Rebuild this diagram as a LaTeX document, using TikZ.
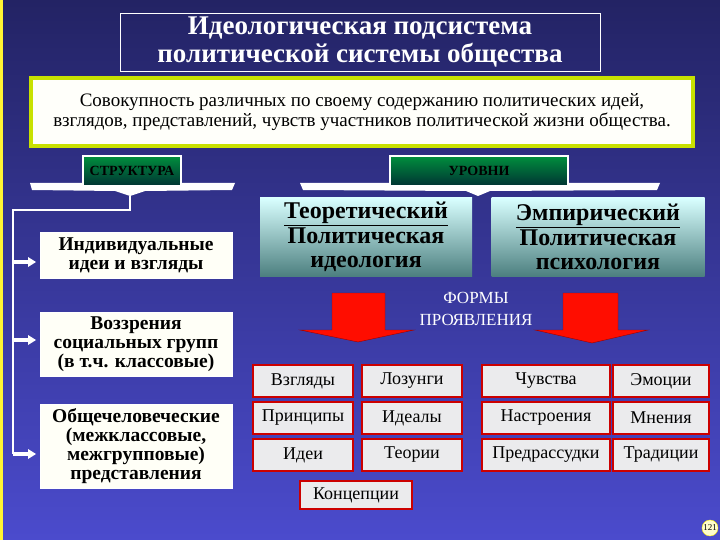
\documentclass[tikz,border=0pt]{standalone}
\usepackage{fontspec}
\setmainfont{Liberation Serif}
\newfontfamily\tnr{Liberation Serif}
\begin{document}
\begin{tikzpicture}[x=1pt,y=-1pt,
  tab/.style={draw=white,line width=1.2pt,top color=teal!60!green!80!black,bottom color=teal!40!black,font=\tnr\bfseries\fontsize{14}{14}\selectfont},
  lbox/.style={draw=white,fill=yellow!3,font=\tnr\bfseries\fontsize{19.5}{19}\selectfont,align=center,inner sep=0pt},
  lvl/.style={top color=cyan!15!white,bottom color=teal!40!gray,font=\tnr\bfseries\fontsize{24}{24}\selectfont,align=center,inner sep=0pt},
  cell/.style={draw=red!80!black,line width=1.2pt,fill=blue!5!gray!15,font=\tnr\fontsize{18}{18}\selectfont,inner sep=0pt},
  redarrow/.style={fill=red!90!orange,draw=red!60!black},
  wire/.style={white,line width=2pt}]
\shade[top color={rgb,255:red,35;green,35;blue,100},bottom color={rgb,255:red,75;green,75;blue,205}] (0,0) rectangle (720,540);
\useasboundingbox (0,0) rectangle (720,540);
\fill[yellow!80] (0,0) rectangle (3,540);
% title
\node[draw=white,minimum width=480,minimum height=58,text=white,align=center,font=\tnr\bfseries\fontsize{27}{28}\selectfont] (title) at (360,42) {Идеологическая подсистема\\политической системы общества};
\node[draw={rgb,255:red,200;green,225;blue,0},line width=3.5pt,fill=yellow!2,minimum width=662,minimum height=68,align=center,font=\tnr\fontsize{19}{20}\selectfont] (def) at (362,112) {Совокупность различных по своему содержанию политических идей,\\взглядов, представлений, чувств участников политической жизни общества.};
% brackets
\fill[white] (30,183)--(235,183)--(232,190)--(145,191)--(130,196)--(115,191)--(32,190)--cycle;
\fill[white] (300,183)--(660,183)--(657,190)--(490,191)--(478,196)--(466,191)--(303,190)--cycle;
\node[tab,minimum width=98,minimum height=30] (str) at (132,171) {СТРУКТУРА};
\node[tab,minimum width=178,minimum height=30] (lev) at (479,171) {УРОВНИ};
% left boxes
\node[lbox,minimum width=192,minimum height=46] (b1) at (136,255) {Индивидуальные\\идеи и взгляды};
\node[lbox,minimum width=192,minimum height=64] (b2) at (136,344) {Воззрения\\социальных групп\\(в т.ч. классовые)};
\node[lbox,minimum width=192,minimum height=84] (b3) at (136,446) {Общечеловеческие\\(межклассовые,\\межгрупповые)\\представления};
\coordinate (t1) at (130,196);
\coordinate (t2) at (130,210);
\coordinate (t3) at (13,210);
\coordinate (t4) at (13,454);
\draw[wire] (t1)--(t2)--(t3)--(t4);
\foreach \b/\y in {b1/262,b2/340,b3/454}{
  \fill[white] (13,\y-2) rectangle (30,\y+2);
  \fill[white] (28,\y-5)--(36,\y)--(28,\y+5)--cycle;}
% levels
\node[lvl,minimum width=212,minimum height=78] (th) at (366,237) {\underline{Теоретический}\\[1pt]Политическая\\идеология};
\node[lvl,minimum width=213,minimum height=78] (em) at (598,237) {\underline{Эмпирический}\\[1pt]Политическая\\психология};
\node[text=white,align=center,font=\tnr\fontsize{17}{22}\selectfont] (forms) at (476,309) {ФОРМЫ\\ПРОЯВЛЕНИЯ};
% red arrows
\draw[redarrow] (332,293)--(385,293)--(385,330)--(414,330)--(358,342)--(300,330)--(332,330)--cycle;
\draw[redarrow] (563,293)--(618,293)--(618,330)--(648,330)--(592,343)--(535,330)--(563,330)--cycle;
% grid
\foreach \t/\x/\y/\w in {Взгляды/303/381/100, Лозунги/412/381/100, Чувства/546/381/128, Эмоции/661/381/96,
  Принципы/303/418/100, Идеалы/412/418/100, Настроения/546/418/128, Мнения/661/418/96,
  Идеи/303/455/100, Теории/412/455/100, Предрассудки/546/455/128, Традиции/661/455/96}{
  \node[cell,minimum width=\w,minimum height=32] (c\x\y) at (\x,\y) {\t};}
\node[cell,minimum width=112,minimum height=28] (conc) at (356,495) {Концепции};
\node[circle,draw=yellow,fill=yellow!20,inner sep=0.5pt,font=\tnr\fontsize{9}{9}\selectfont] (pg) at (710,528) {121};
\end{tikzpicture}
\end{document}
